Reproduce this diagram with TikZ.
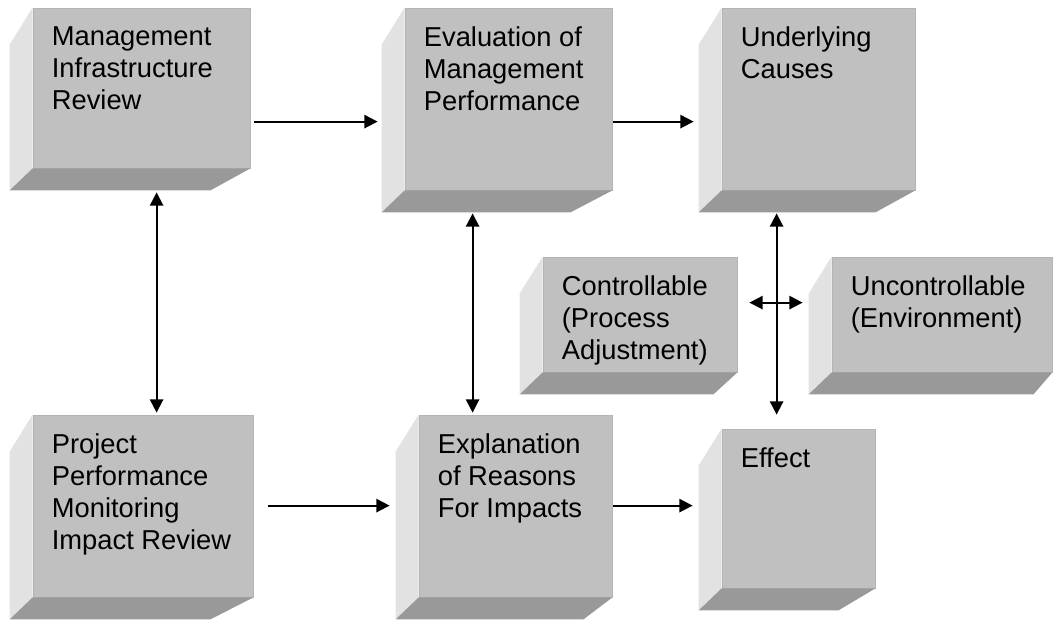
\documentclass[tikz,border=0pt]{standalone}
\usepackage{fontspec}
\setmainfont{Liberation Sans}
\usetikzlibrary{calc,fit,arrows.meta}
\definecolor{frontc}{HTML}{C0C0C0}
\definecolor{frontedge}{HTML}{B4B4B4}
\definecolor{leftc}{HTML}{E2E2E2}
\definecolor{botc}{HTML}{999999}
\tikzset{
  front/.style={fill=frontc, draw=frontedge, line width=0.6pt, inner sep=0pt},
  boxtext/.style={anchor=north west, inner sep=0pt, align=left, text=black,
    font=\fontsize{20.5}{24}\selectfont},
  arr/.style={line width=1.4pt, -{Triangle[length=10pt,width=10pt]}},
  darr/.style={line width=1.4pt, {Triangle[length=10pt,width=10pt]}-{Triangle[length=10pt,width=10pt]}}
}
% #1 name, #2 x1, #3 y1, #4 x2, #5 y2, #6 bottom-right x offset, #7 text
\newcommand\mycube[7]{%
  \node[front, fit={(#2,#3) (#4,#5)}] (#1) {};
  \fill[leftc] (#1.north west) -- ++(-23,37) -- ($(#1.south west)+(-23,22)$) -- (#1.south west) -- cycle;
  \fill[botc] (#1.south west) -- (#1.south east) -- ++(#6,22) -- ($(#1.south west)+(-23,22)$) -- cycle;
  \node[boxtext] (#1t) at ($(#1.north west)+(19,19)$) {#7};
}
\begin{document}
\begin{tikzpicture}[x=0.75pt,y=-0.75pt]
\useasboundingbox (0,0) rectangle (1056,619);
\mycube{b1}{33}{8}{250}{168}{-40}{Management\\Infrastructure\\Review}
\mycube{b2}{405}{8}{612}{190}{-42}{Evaluation of\\Management\\Performance}
\mycube{b3}{722}{8}{915}{190}{-40}{Underlying\\Causes}
\mycube{b4}{543}{257}{737}{372}{-24}{Controllable\\(Process\\Adjustment)}
\mycube{b5}{832}{257}{1052}{372}{-19}{Uncontrollable\\(Environment)}
\mycube{b6}{33}{415}{253}{597}{-43}{Project\\Performance\\Monitoring\\Impact Review}
\mycube{b7}{419}{415}{612}{597}{-29}{Explanation\\of Reasons\\For Impacts}
\mycube{b8}{722}{429}{875}{588}{-37}{Effect}
% connectors
\draw[arr] ($(b1.north east)+(4,114)$) -- ($(b2.north west)+(-27,114)$);
\draw[arr] ($(b2.north east)+(1,114)$) -- ($(b3.north west)+(-28,114)$);
\draw[darr] ($(b1.south west)+(124,24)$) -- ($(b6.north west)+(124,-2)$);
\draw[darr] ($(b2.south west)+(68,23)$) -- ($(b7.north west)+(54,-2)$);
\draw[darr] ($(b3.south west)+(55,23)$) coordinate (vt) -- ($(b8.north west)+(55,-14)$) coordinate (vb);
\draw[darr] ($(b4.north east)+(12,46)$) -- ($(b5.north west)+(-29,46)$);
\draw[arr] ($(b6.north east)+(15,91)$) -- ($(b7.north west)+(-29,91)$);
\draw[arr] ($(b7.north east)+(1,91)$) -- ($(b8.north west)+(-29,77)$);
\end{tikzpicture}
\end{document}
